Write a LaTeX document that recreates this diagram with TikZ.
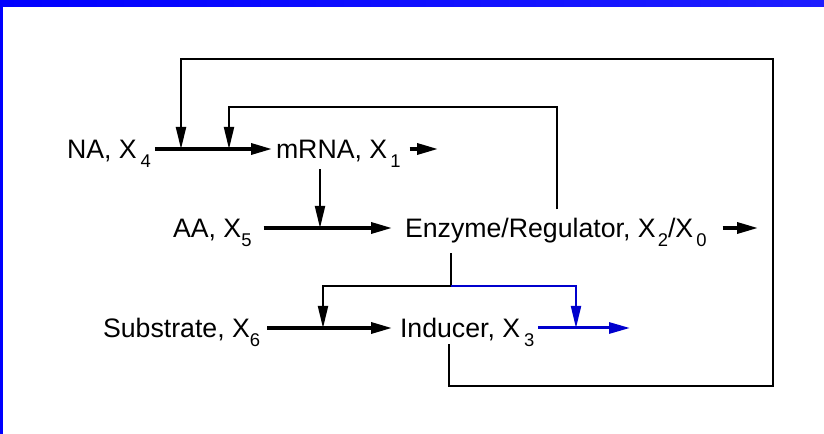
\documentclass[tikz,border=0pt]{standalone}
\usepackage{fontspec}
\setmainfont{Liberation Sans}
\usetikzlibrary{arrows.meta}
\definecolor{regblue}{RGB}{0,0,205}
\newcommand\lo[2][0pt]{\hspace{#1}\raisebox{-9bp}{\fontsize{18.5}{18.5}\selectfont #2}}

\begin{document}
\begin{tikzpicture}[x=1bp, y=-1bp,
  species/.style={inner sep=0pt, outer sep=4bp, anchor=west, text height=19bp, text depth=0pt, font=\fontsize{26.8}{30}\selectfont},
  flow arrow/.style={-{Triangle[length=21bp,width=11bp]}, line width=3.4bp},
  control line/.style={line width=2bp},
  control arrow/.style={control line, -{Triangle[length=22bp,width=10bp]}},
  loop arrow/.style={line width=2.4bp, -{Triangle[length=22bp,width=10bp]}},
  blue arrow/.style={control arrow, draw=regblue},
  blue flow/.style={flow arrow, draw=regblue, line width=3bp}
]
\useasboundingbox (0,0) rectangle (824,434);
\fill[left color=blue, right color={rgb,255:red,30;green,30;blue,255}] (0,0) rectangle (824,7);
\fill[blue] (0,0) rectangle (3,434);

\node[species] (na)   at (63,149)  {NA, X\lo[4bp]{4}};
\node[species] (mrna) at (272,149) {mRNA, X\lo[3bp]{1}};
\node[species] (aa)   at (169,228) {AA, X\lo{5}};
\node[species] (enz)  at (401,228) {Enzyme/Regulator, X\lo[2bp]{2}/X\lo[3bp]{0}};
\node[species] (sub)  at (99,328)  {Substrate, X\lo{6}};
\node[species] (ind)  at (396,328) {Inducer, X\lo[4bp]{3}};

\coordinate (jna)   at (181,149);
\coordinate (jfb)   at (229,149);
\coordinate (jaa)   at (320,228);
\coordinate (jsub)  at (323,328);
\coordinate (jind)  at (576,328);
\coordinate (split) at (451,286);
\coordinate (fbtop) at (557,107);
\coordinate (loopbl) at (449,386);
\coordinate (loopbr) at (773,386);
\coordinate (looptr) at (773,59);
\coordinate (mrnaout) at (438,149);
\coordinate (enzout)  at (758,228);
\coordinate (indout)  at (630,328);

\draw[flow arrow] (na) -- (mrna);
\draw[flow arrow, shorten <=5bp] (mrna) -- (mrnaout);
\draw[flow arrow, shorten <=8bp, shorten >=9bp] (aa) -- (enz);
\draw[flow arrow, shorten <=12bp] (enz) -- (enzout);
\draw[flow arrow, shorten <=3bp, shorten >=4bp] (sub) -- (ind);
\draw[blue flow] (ind) -- (indout);

\draw[control arrow, shorten <=7bp] (jaa |- mrna.south) -- (jaa);
\draw[control line, shorten <=12bp] (split |- enz.south) -- (split);
\draw[control arrow] (split) -| (jsub);
\draw[blue arrow] (split) -| (jind);
\draw[control arrow] ([yshift=5bp]enz.north -| fbtop) -- (fbtop) -| (jfb);
\draw[loop arrow, shorten <=3bp] (ind.south -| loopbl) -- (loopbl) -- (loopbr) -- (looptr) -| (jna);
\end{tikzpicture}
\end{document}
